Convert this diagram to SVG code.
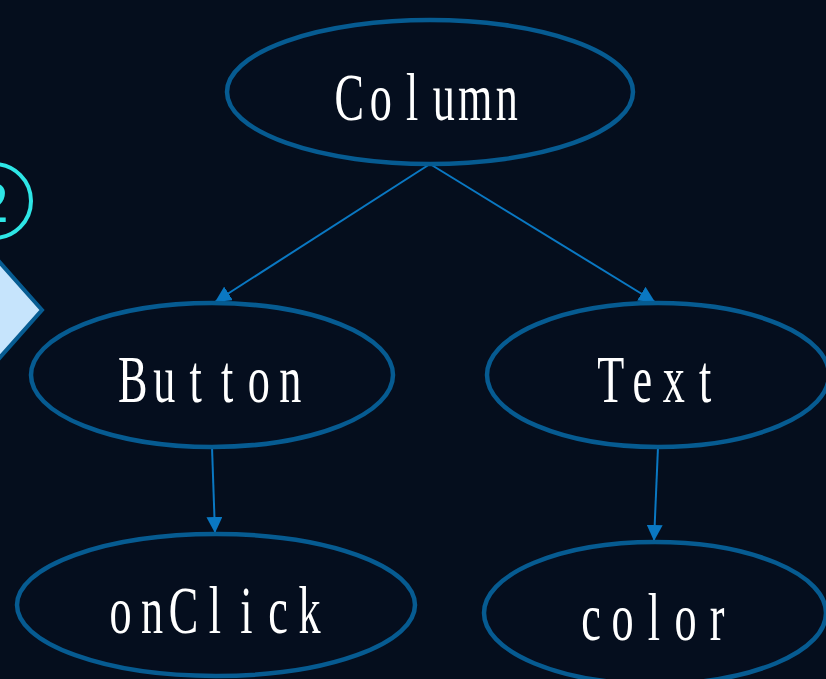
<svg xmlns="http://www.w3.org/2000/svg" width="826" height="679" viewBox="0 0 826 679">
<style>
.node ellipse{fill:#050e1e;stroke:#065b91;stroke-width:4.5}
.node text{font-family:"Liberation Serif","DejaVu Serif",serif;font-size:68px;fill:#ffffff;text-anchor:middle}
.edge{stroke:#0a78c2;stroke-width:2;fill:none;marker-end:url(#arr)}
</style>
<defs>
<marker id="arr" viewBox="0 0 10 10" refX="10" refY="5" markerWidth="8" markerHeight="8" orient="auto" markerUnits="strokeWidth">
<path d="M0,0 L10,5 L0,10 z" fill="#0a78c2"/>
</marker>
</defs>
<rect width="826" height="679" fill="#050e1d"/>
<g id="badge">
<circle cx="-6" cy="201" r="37" fill="none" stroke="#2ee6e6" stroke-width="4"/>
<text x="-6" y="222" font-family="Liberation Serif, serif" font-size="60" fill="#2ee6e6" text-anchor="middle">2</text>
</g>
<g id="diamond">
<polygon points="42,310 -5,257 -52,310 -5,363" fill="#c6e4fc" stroke="#075c92" stroke-width="4"/>
</g>
<g id="edges">
<line class="edge" x1="430" y1="164" x2="215" y2="302"/>
<line class="edge" x1="430" y1="164" x2="655" y2="302"/>
<line class="edge" x1="212" y1="447" x2="215" y2="533"/>
<line class="edge" x1="658" y1="447" x2="654" y2="541"/>
</g>
<g id="n-column" class="node">
<ellipse cx="430" cy="92" rx="203" ry="72"/>
<text transform="translate(428,120) scale(0.65,1)" x="-121.15 -72.69 -24.23 24.23 72.69 121.15" y="0">Column</text>
</g>
<g id="n-button" class="node">
<ellipse cx="212" cy="375" rx="181" ry="72"/>
<text transform="translate(211.5,402) scale(0.65,1)" x="-121.15 -72.69 -24.23 24.23 72.69 121.15" y="0">Button</text>
</g>
<g id="n-text" class="node">
<ellipse cx="658" cy="375" rx="171" ry="72"/>
<text transform="translate(658,402) scale(0.65,1)" x="-72.69 -24.23 24.23 72.69" y="0">Text</text>
</g>
<g id="n-onclick" class="node">
<ellipse cx="216" cy="605" rx="199" ry="71"/>
<text transform="translate(215,633) scale(0.65,1)" x="-145.38 -96.92 -48.46 0 48.46 96.92 145.38" y="0">onClick</text>
</g>
<g id="n-color" class="node">
<ellipse cx="655" cy="613" rx="171" ry="71"/>
<text transform="translate(654,640) scale(0.65,1)" x="-96.92 -48.46 0 48.46 96.92" y="0">color</text>
</g>
</svg>
